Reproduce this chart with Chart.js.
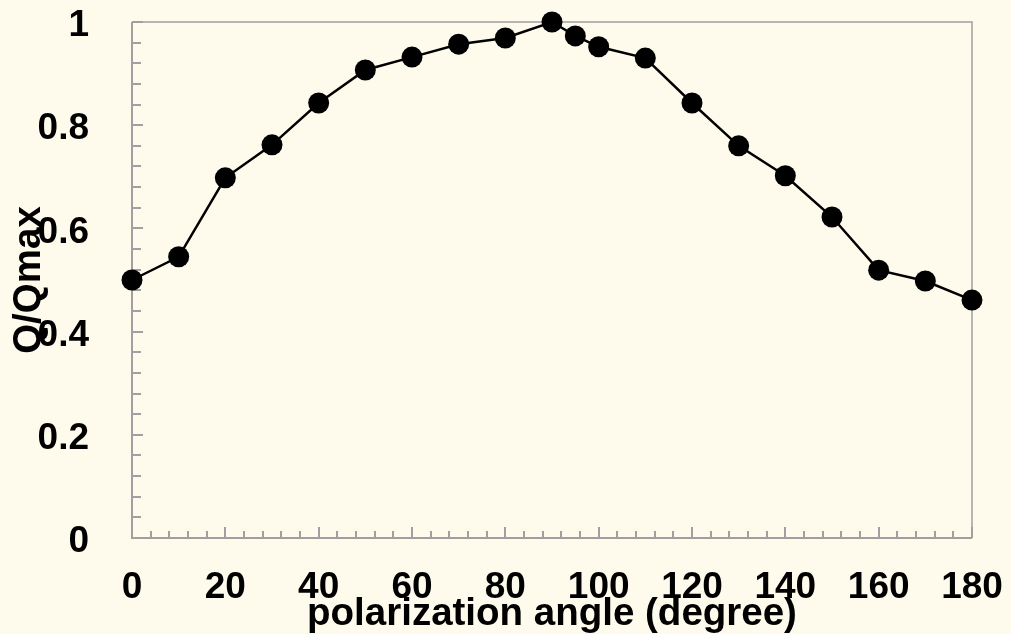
<!DOCTYPE html>
<html>
<head>
<meta charset="utf-8">
<script src="https://cdn.jsdelivr.net/npm/chart.js@4/dist/chart.umd.min.js"></script>
<style>
html,body{margin:0;padding:0;background:#FFFBEC;}
#wrap{width:1011px;height:634px;position:relative;}
</style>
</head>
<body>
<div id="wrap"><canvas id="c" width="1011" height="634"></canvas></div>
<script>
const angles = [0, 10, 20, 30, 40, 50, 60, 70, 80, 90, 95, 100, 110, 120, 130, 140, 150, 160, 170, 180];
const ratios = [0.500, 0.545, 0.698, 0.762, 0.843, 0.907, 0.932, 0.957, 0.969, 1.000, 0.973, 0.952, 0.930, 0.843, 0.760, 0.702, 0.622, 0.519, 0.498, 0.461];
const xTickValues = [0, 20, 40, 60, 80, 100, 120, 140, 160, 180];
const yTickValues = [0, 0.2, 0.4, 0.6, 0.8, 1];
const xMinorStep = 4;
const yMinorStep = 0.04;

const AXIS_COLOR = '#A0A0A0';
const FONT = '"Liberation Sans", Arial, sans-serif';

const framePlugin = {
  id: 'frame',
  beforeDatasetsDraw(chart) {
    const {ctx, chartArea: a, scales: {x, y}} = chart;
    ctx.save();
    ctx.strokeStyle = AXIS_COLOR;
    ctx.lineWidth = 1.5;
    ctx.beginPath();
    ctx.moveTo(a.left, a.top); ctx.lineTo(a.right, a.top); ctx.lineTo(a.right, a.bottom);
    ctx.stroke();
    ctx.lineWidth = 2;
    ctx.beginPath();
    ctx.moveTo(a.left, a.top); ctx.lineTo(a.left, a.bottom); ctx.lineTo(a.right, a.bottom);
    ctx.stroke();
    ctx.beginPath();
    const nY = Math.round((y.max - y.min) / yMinorStep);
    for (let i = 0; i <= nY; i++) {
      const v = y.min + i * yMinorStep;
      const py = Math.round(y.getPixelForValue(v));
      const major = i % 5 === 0;
      ctx.moveTo(a.left, py); ctx.lineTo(a.left + (major ? 11 : 9), py);
    }
    const nX = Math.round((x.max - x.min) / xMinorStep);
    for (let i = 0; i <= nX; i++) {
      const v = x.min + i * xMinorStep;
      const px = Math.round(x.getPixelForValue(v));
      const major = i % 5 === 0;
      ctx.moveTo(px, a.bottom); ctx.lineTo(px, a.bottom - (major ? 11 : 7));
    }
    ctx.stroke();
    ctx.restore();
  }
};

const bgPlugin = {
  id: 'bg',
  beforeDraw(chart) {
    const {ctx, width, height} = chart;
    ctx.save();
    ctx.fillStyle = '#FFFBEC';
    ctx.fillRect(0, 0, width, height);
    ctx.restore();
  }
};

function zeroPad(s) { s.paddingTop = 0; s.paddingBottom = 0; s.paddingLeft = 0; s.paddingRight = 0; }

new Chart(document.getElementById('c'), {
  type: 'line',
  data: {
    datasets: [{
      data: angles.map((a, i) => ({x: a, y: ratios[i]})),
      borderColor: '#000',
      borderWidth: 2.5,
      backgroundColor: '#000',
      pointBackgroundColor: '#000',
      pointBorderColor: '#000',
      pointRadius: 10.5,
      pointBorderWidth: 0,
      tension: 0,
      clip: false
    }]
  },
  options: {
    responsive: false,
    animation: false,
    events: [],
    layout: {padding: {top: 22, right: 39, left: 0, bottom: 0}},
    plugins: {legend: {display: false}, tooltip: {enabled: false}},
    scales: {
      x: {
        type: 'linear',
        min: 0, max: 180,
        grid: {display: false},
        border: {display: false},
        afterBuildTicks(s) { s.ticks = xTickValues.map(v => ({value: v})); },
        afterFit(s) { s.height = 96; zeroPad(s); },
        ticks: {
          autoSkip: false,
          maxRotation: 0,
          padding: 20,
          color: '#000',
          font: {family: FONT, size: 37, weight: 'bold'},
          callback: v => String(v)
        },
        title: {
          display: true,
          text: 'polarization angle (degree)',
          color: '#000',
          font: {family: FONT, size: 38.5, weight: 'bold', lineHeight: 1},
          padding: {top: 0, bottom: 0}
        }
      },
      y: {
        type: 'linear',
        min: 0, max: 1,
        grid: {display: false},
        border: {display: false},
        afterBuildTicks(s) { s.ticks = yTickValues.map(v => ({value: v})); },
        afterFit(s) { s.width = 132; zeroPad(s); },
        ticks: {
          autoSkip: false,
          padding: 35,
          labelOffset: 4,
          color: '#000',
          font: {family: FONT, size: 37, weight: 'bold'},
          callback: v => String(v)
        },
        title: {
          display: true,
          text: 'Q/Qmax',
          color: '#000',
          font: {family: FONT, size: 38.5, weight: 'bold', lineHeight: 1},
          padding: {top: 10, bottom: 0}
        }
      }
    }
  },
  plugins: [bgPlugin, framePlugin]
});
</script>
</body>
</html>
